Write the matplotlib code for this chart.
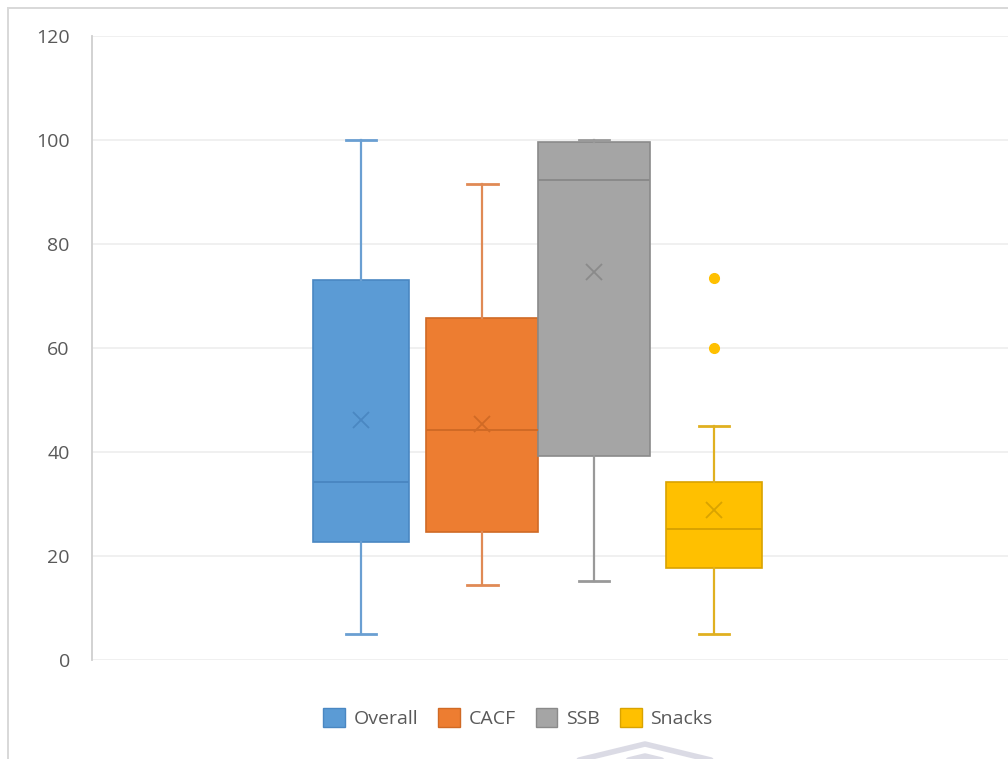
import matplotlib
matplotlib.use('Agg')
import matplotlib.pyplot as plt
from matplotlib.patches import Rectangle, Patch
from matplotlib.lines import Line2D

# box statistics per group
groups = ['Overall', 'CACF', 'SSB', 'Snacks']
whis_lo = [5.0, 14.4, 15.2, 5.0]
q1 = [22.7, 24.6, 39.2, 17.7]
median = [34.2, 44.2, 92.3, 25.2]
q3 = [73.1, 65.8, 99.6, 34.2]
whis_hi = [100.0, 91.5, 100.0, 45.0]
mean = [46.2, 45.4, 74.6, 28.8]
outliers = [[], [], [], [73.5, 60.0]]

yticks = [0, 20, 40, 60, 80, 100, 120]

# layout / style
positions = [1.0, 2.03, 2.98, 4.0]
widths = [0.82, 0.95, 0.95, 0.82]
fills = ['#5B9BD5', '#ED7D31', '#A5A5A5', '#FFC000']
edges = ['#4A87C2', '#D06A25', '#8A8A8A', '#D9A300']
whisk = ['#6A9FD2', '#E08A55', '#999999', '#E0B020']
text_col = '#595959'
font = ['Open Sans', 'DejaVu Sans']

plt.rcParams['font.family'] = font

fig = plt.figure(figsize=(10.08, 7.59), dpi=100)
W, H = 1008, 759
ax = fig.add_axes([92 / W, (759 - 660) / H, (1008 - 92) / W, (660 - 36) / H])

stats = []
for i, g in enumerate(groups):
    stats.append(dict(label=g, whislo=whis_lo[i], q1=q1[i], med=median[i],
                      q3=q3[i], whishi=whis_hi[i], mean=mean[i],
                      fliers=outliers[i]))

bp = ax.bxp(stats, positions=positions, widths=widths, patch_artist=True,
            showmeans=True, capwidths=0.26, zorder=3)

for i in range(len(groups)):
    box = bp['boxes'][i]
    box.set_facecolor(fills[i])
    box.set_edgecolor(edges[i])
    box.set_linewidth(1.2)
    bp['medians'][i].set(color=edges[i], linewidth=1.4)
    bp['means'][i].set(marker='x', markeredgecolor=edges[i], markersize=12,
                       markeredgewidth=1.3)
    for w in bp['whiskers'][2 * i:2 * i + 2]:
        w.set(color=whisk[i], linewidth=1.6)
    for c in bp['caps'][2 * i:2 * i + 2]:
        c.set(color=whisk[i], linewidth=2.0)
    bp['fliers'][i].set(marker='o', markerfacecolor=fills[i],
                        markeredgecolor=fills[i], markersize=7, linestyle='none')

ax.set_ylim(0, 120)
ax.set_xlim(1 - 269 / 117.7, 1 + 647 / 117.7)
ax.set_yticks(yticks)
ax.set_xticks([])
ax.grid(axis='y', color='#EDEDED', linewidth=1.2, zorder=0)
ax.set_axisbelow(True)
ax.tick_params(axis='y', length=0, pad=16, labelsize=14, labelcolor=text_col)

for s in ['top', 'right', 'bottom']:
    ax.spines[s].set_visible(False)
ax.spines['left'].set_color('#CFCFCF')
ax.spines['left'].set_linewidth(1.3)

# chart frame
fig.patches.append(Rectangle((8 / W, -0.1), 1.2, (759 - 8) / H + 0.1,
                             transform=fig.transFigure, fill=False,
                             edgecolor='#D8D8D8', linewidth=1.4))

handles = [Patch(facecolor=fills[i], edgecolor=edges[i], linewidth=1.0)
           for i in range(len(groups))]
fig.legend(handles, groups, loc='center', bbox_to_anchor=(518 / W, (759 - 718) / H),
           ncol=4, frameon=False, fontsize=14, labelcolor=text_col,
           handlelength=1.1, handleheight=1.1, handletextpad=0.45,
           columnspacing=1.05)

# faint chevron under the legend
for dy in (0, 12):
    fig.add_artist(Line2D([575 / W, 645 / W, 715 / W],
                          [(759 - 761 - dy) / H, (759 - 744 - dy) / H, (759 - 761 - dy) / H],
                          transform=fig.transFigure, color='#C4C4D4',
                          linewidth=4, alpha=0.6, solid_capstyle='round'))

fig.savefig('out.png', dpi=100)
